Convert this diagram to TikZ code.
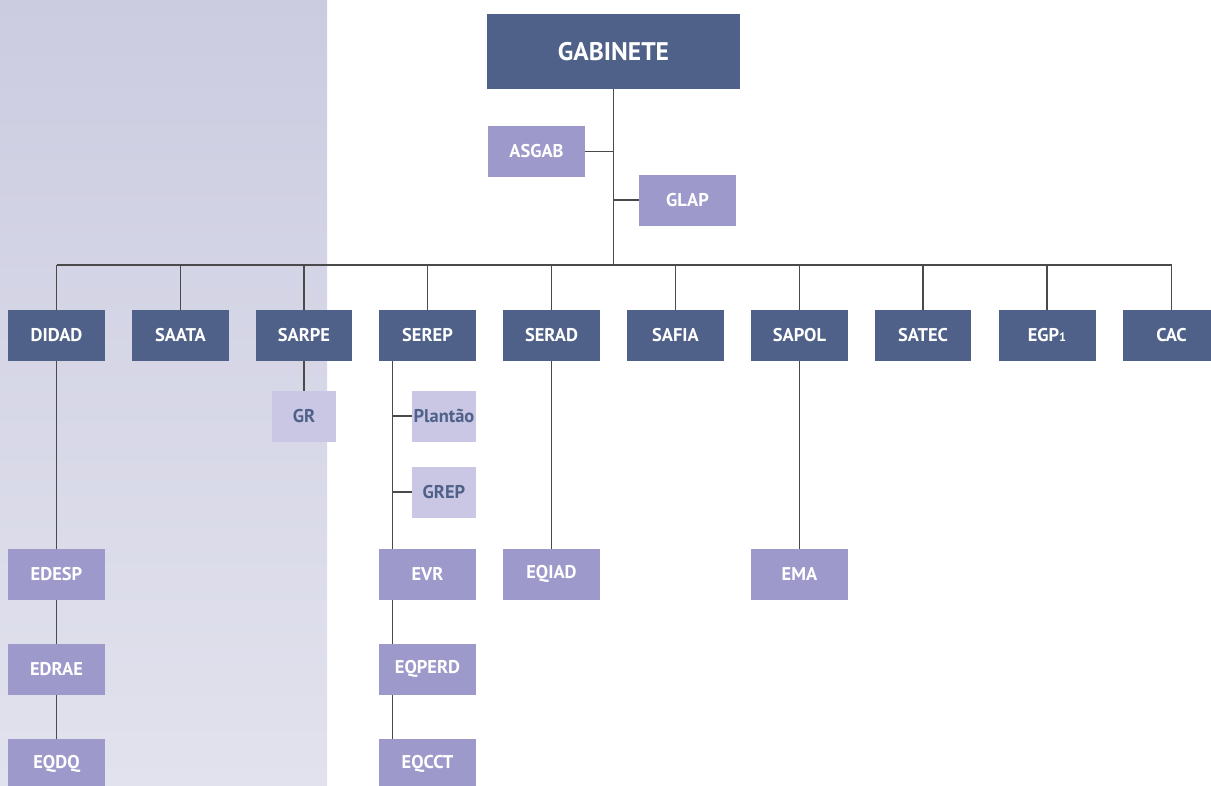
\documentclass[tikz,border=0pt]{standalone}
\usepackage{fontspec}
\setmainfont{PT Sans}
\definecolor{chefe}{HTML}{4F6189}
\definecolor{assess}{HTML}{9D99CA}
\definecolor{claro}{HTML}{C9C7E4}
\definecolor{linha}{HTML}{4A4A4A}
\begin{document}
\begin{tikzpicture}[x=0.02cm,y=-0.02cm,inner sep=0pt,outer sep=0pt,
unidade/.style={fill=chefe,text=white,rectangle,minimum width=1.94cm,minimum height=1.02cm,font=\bfseries\fontsize{10.5}{12}\selectfont},
equipe/.style={unidade,fill=assess},
nucleo/.style={unidade,fill=claro,text=chefe,minimum width=1.28cm},
liga/.style={draw=linha,line width=0.6pt}]
\useasboundingbox (0,0) rectangle (1211,785);
\shade[top color={rgb,255:red,203;green,204;blue,224},bottom color={rgb,255:red,226;green,226;blue,238}] (0,0) rectangle (327,785);

\draw (613.5,51.5) node[unidade,minimum width=5.06cm,minimum height=1.5cm,font=\bfseries\fontsize{14.5}{16}\selectfont] (GAB) {GABINETE};
\draw (536.5,151.5) node[equipe] (ASGAB) {ASGAB};
\draw (687.5,200) node[equipe] (GLAP) {GLAP};
\coordinate (bus) at (613.5,265);

\draw (56.5,335.5) node[unidade] (DIDAD) {DIDAD};
\draw (180.5,335.5) node[unidade] (SAATA) {SAATA};
\draw (304,335.5) node[unidade] (SARPE) {SARPE};
\draw (427.5,335.5) node[unidade] (SEREP) {SEREP};
\draw (551.5,335.5) node[unidade] (SERAD) {SERAD};
\draw (675.5,335.5) node[unidade] (SAFIA) {SAFIA};
\draw (799.5,335.5) node[unidade] (SAPOL) {SAPOL};
\draw (923,335.5) node[unidade] (SATEC) {SATEC};
\draw (1047,335.5) node[unidade] (EGP) {EGP{\fontsize{7}{8}\selectfont 1}};
\draw (1171.5,335.5) node[unidade] (CAC) {CAC};

\draw (304,416) node[nucleo] (GR) {GR};
\draw (444,416) node[nucleo] (Plantao) {Plantão};
\draw (444,492) node[nucleo] (GREP) {GREP};

\draw (56.5,574) node[equipe] (EDESP) {EDESP};
\draw (56.5,669) node[equipe] (EDRAE) {EDRAE};
\draw (56.5,764) node[equipe] (EQDQ) {EQDQ};
\draw (427.5,574) node[equipe] (EVR) {EVR};
\draw (427.5,669) node[equipe] (EQPERD) {EQPERD};
\draw (427.5,764) node[equipe] (EQCCT) {EQCCT};
\draw (551.5,574) node[equipe] (EQIAD) {EQIAD};
\draw (799.5,574) node[equipe] (EMA) {EMA};

% ligacoes do gabinete
\draw[liga] (GAB.south) -- (bus);
\draw[liga] (ASGAB.east) -- (ASGAB.east -| GAB.south);
\draw[liga] (GLAP.west) -- (GLAP.west -| GAB.south);
\draw[liga] (DIDAD.north |- bus) -- (CAC.north |- bus);
\foreach \u in {DIDAD,SAATA,SARPE,SEREP,SERAD,SAFIA,SAPOL,SATEC,EGP,CAC}
  \draw[liga] (\u.north) -- (\u.north |- bus);

% ligacoes das unidades
\draw[liga] (DIDAD) -- (EDESP);
\draw[liga] (EDESP) -- (EDRAE);
\draw[liga] (EDRAE) -- (EQDQ);
\draw[liga] (SARPE) -- (GR);
\draw[liga] (SERAD) -- (EQIAD);
\draw[liga] (SAPOL) -- (EMA);
\coordinate (serepbus) at ([xshift=-0.7cm]SEREP.south);
\draw[liga] (serepbus) -- ([xshift=-0.7cm]EVR.north);
\draw[liga] ([xshift=-0.7cm]EVR.south) -- ([xshift=-0.7cm]EQPERD.north);
\draw[liga] ([xshift=-0.7cm]EQPERD.south) -- ([xshift=-0.7cm]EQCCT.north);
\draw[liga] (Plantao.west) -- (Plantao.west -| serepbus);
\draw[liga] (GREP.west) -- (GREP.west -| serepbus);
\end{tikzpicture}
\end{document}
